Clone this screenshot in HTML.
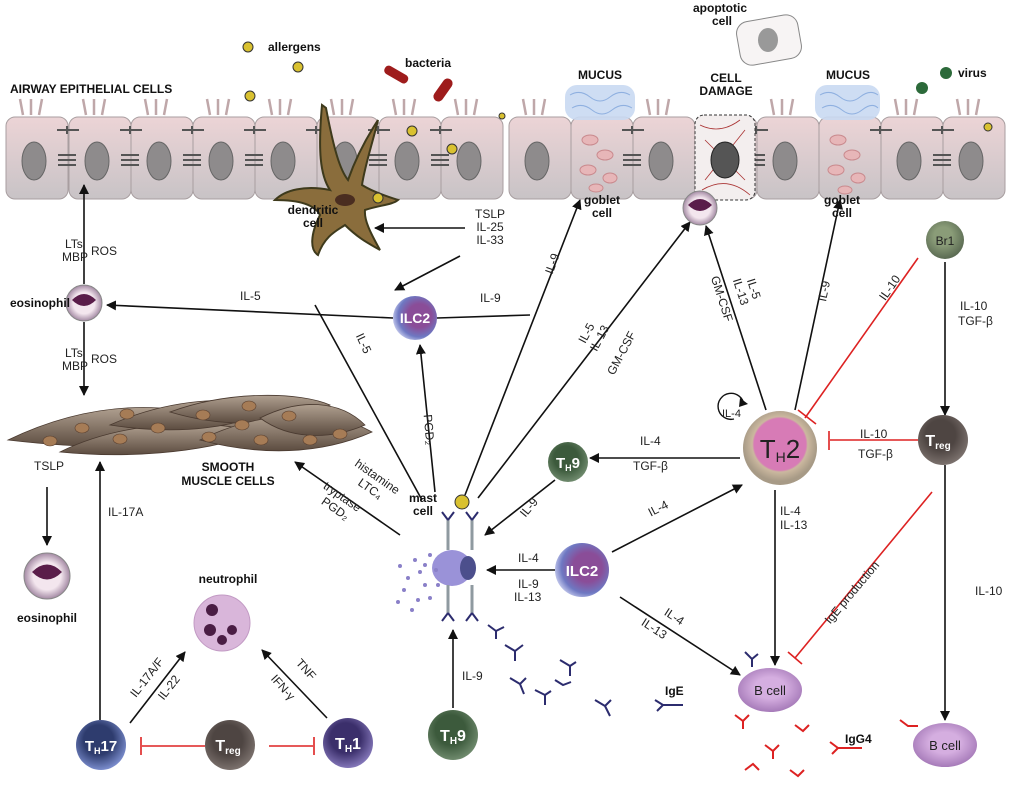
<!DOCTYPE html>
<html><head><meta charset="utf-8"><style>
html,body{margin:0;padding:0;background:#fff;}
svg{display:block;font-family:"Liberation Sans",sans-serif;}
.t{font-size:12px;fill:#222;}
.b{font-size:12px;font-weight:bold;fill:#111;}
.w{font-weight:bold;fill:#fff;}
</style></head><body>
<svg width="1009" height="792" viewBox="0 0 1009 792" xmlns="http://www.w3.org/2000/svg">
<defs>
<marker id="a" markerWidth="10" markerHeight="10" refX="9" refY="5" orient="auto" markerUnits="userSpaceOnUse"><path d="M0,0 L10,5 L0,10 z" fill="#111"/></marker>
<linearGradient id="ep" x1="0" y1="0" x2="0" y2="1"><stop offset="0" stop-color="#ecd4d6"/><stop offset="1" stop-color="#c8c3c6"/></linearGradient>
<radialGradient id="th2" cx="0.5" cy="0.45" r="0.5"><stop offset="0.7" stop-color="#d77bb6"/><stop offset="0.75" stop-color="#cbb89f"/><stop offset="1" stop-color="#a79a86"/></radialGradient>
<radialGradient id="ilc" cx="0.6" cy="0.45" r="0.6"><stop offset="0.45" stop-color="#8a4d98"/><stop offset="0.8" stop-color="#6e78c2"/><stop offset="1" stop-color="#b7bde6"/></radialGradient>
<radialGradient id="dk" cx="0.45" cy="0.4" r="0.6"><stop offset="0.5" stop-color="#4e4542"/><stop offset="1" stop-color="#7b716d"/></radialGradient>
<radialGradient id="gr" cx="0.45" cy="0.4" r="0.6"><stop offset="0.5" stop-color="#3c5a3c"/><stop offset="1" stop-color="#6f8a6d"/></radialGradient>
<radialGradient id="bl" cx="0.45" cy="0.4" r="0.6"><stop offset="0.5" stop-color="#2e3c6e"/><stop offset="1" stop-color="#7a8ccc"/></radialGradient>
<radialGradient id="pu" cx="0.45" cy="0.4" r="0.6"><stop offset="0.5" stop-color="#3b2f6b"/><stop offset="1" stop-color="#8376b8"/></radialGradient>
<radialGradient id="bc" cx="0.5" cy="0.45" r="0.6"><stop offset="0.4" stop-color="#d5aee0"/><stop offset="1" stop-color="#9e72b2"/></radialGradient>
<radialGradient id="eo" cx="0.5" cy="0.5" r="0.5"><stop offset="0.6" stop-color="#f3e6ee"/><stop offset="1" stop-color="#a48aa4"/></radialGradient>
<radialGradient id="br" cx="0.45" cy="0.4" r="0.6"><stop offset="0.4" stop-color="#8a9c78"/><stop offset="1" stop-color="#5a6a52"/></radialGradient>
<linearGradient id="sm" x1="0" y1="0" x2="0" y2="1"><stop offset="0" stop-color="#b0a090"/><stop offset="1" stop-color="#5c4c40"/></linearGradient>
</defs>

<g>
<g fill="url(#ep)" stroke="#a89ea0" stroke-width="1">
<rect x="6" y="117" width="62" height="82" rx="9"/><rect x="69" y="117" width="62" height="82" rx="9"/><rect x="131" y="117" width="62" height="82" rx="9"/><rect x="193" y="117" width="62" height="82" rx="9"/><rect x="255" y="117" width="62" height="82" rx="9"/><rect x="317" y="117" width="62" height="82" rx="9"/><rect x="379" y="117" width="62" height="82" rx="9"/><rect x="441" y="117" width="62" height="82" rx="9"/><rect x="509" y="117" width="62" height="82" rx="9"/><rect x="571" y="117" width="62" height="82" rx="9"/><rect x="633" y="117" width="62" height="82" rx="9"/><rect x="695" y="117" width="62" height="82" rx="9"/><rect x="757" y="117" width="62" height="82" rx="9"/><rect x="819" y="117" width="62" height="82" rx="9"/><rect x="881" y="117" width="62" height="82" rx="9"/><rect x="943" y="117" width="62" height="82" rx="9"/>
</g>
<g fill="#8e8b8c" stroke="#666" stroke-width="1">
<ellipse cx="34" cy="161" rx="12" ry="19"/><ellipse cx="97" cy="161" rx="12" ry="19"/><ellipse cx="159" cy="161" rx="12" ry="19"/><ellipse cx="221" cy="161" rx="12" ry="19"/><ellipse cx="283" cy="161" rx="12" ry="19"/><ellipse cx="345" cy="161" rx="12" ry="19"/><ellipse cx="407" cy="161" rx="12" ry="19"/><ellipse cx="469" cy="161" rx="12" ry="19"/><ellipse cx="537" cy="161" rx="12" ry="19"/><ellipse cx="661" cy="161" rx="12" ry="19"/><ellipse cx="785" cy="161" rx="12" ry="19"/><ellipse cx="909" cy="161" rx="12" ry="19"/><ellipse cx="971" cy="161" rx="12" ry="19"/>
</g>
<g stroke="#bfa7a9" stroke-width="2.5" fill="none">
<path d="M23,115 l-3,-16 M31,115 l0,-16 M39,115 l3,-16 M86,115 l-3,-16 M94,115 l0,-16 M102,115 l3,-16 M148,115 l-3,-16 M156,115 l0,-16 M164,115 l3,-16 M210,115 l-3,-16 M218,115 l0,-16 M226,115 l3,-16 M272,115 l-3,-16 M280,115 l0,-16 M288,115 l3,-16 M334,115 l-3,-16 M342,115 l0,-16 M350,115 l3,-16 M396,115 l-3,-16 M404,115 l0,-16 M412,115 l3,-16 M458,115 l-3,-16 M466,115 l0,-16 M474,115 l3,-16 M526,115 l-3,-16 M534,115 l0,-16 M542,115 l3,-16 M650,115 l-3,-16 M658,115 l0,-16 M666,115 l3,-16 M774,115 l-3,-16 M782,115 l0,-16 M790,115 l3,-16 M898,115 l-3,-16 M906,115 l0,-16 M914,115 l3,-16 M960,115 l-3,-16 M968,115 l0,-16 M976,115 l3,-16"/>
</g>
<g stroke="#555" stroke-width="2">
<path d="M57,130 h22 M67,126 v8 M120,130 h22 M130,126 v8 M182,130 h22 M192,126 v8 M244,130 h22 M254,126 v8 M306,130 h22 M316,126 v8 M368,130 h22 M378,126 v8 M430,130 h22 M440,126 v8 M622,130 h22 M632,126 v8 M746,130 h22 M756,126 v8 M870,130 h22 M880,126 v8 M932,130 h22 M942,126 v8"/>
<path d="M58,155 h18 M58,160 h18 M58,165 h18 M121,155 h18 M121,160 h18 M121,165 h18 M183,155 h18 M183,160 h18 M183,165 h18 M245,155 h18 M245,160 h18 M245,165 h18 M369,155 h18 M369,160 h18 M369,165 h18 M431,155 h18 M431,160 h18 M431,165 h18 M623,155 h18 M623,160 h18 M623,165 h18 M747,155 h18 M747,160 h18 M747,165 h18 M933,155 h18 M933,160 h18 M933,165 h18"/>
</g>
<g fill="#c9d9f2" opacity="0.9"><rect x="565" y="85" width="70" height="35" rx="12"/><rect x="815" y="85" width="65" height="35" rx="12"/></g>
<g stroke="#8fb0e0" stroke-width="1" fill="none"><path d="M570,95 q10,-6 20,2 t20,0 t20,-2 M572,108 q10,-6 20,2 t20,0 t20,-2 M820,95 q10,-6 20,2 t20,0 t18,-2 M822,108 q10,-6 20,2 t20,0 t16,-2"/></g>
<g fill="#e7b6b8" stroke="#c98a8e"><ellipse cx="590" cy="140" rx="8" ry="5"/><ellipse cx="605" cy="155" rx="8" ry="5"/><ellipse cx="588" cy="170" rx="8" ry="5"/><ellipse cx="610" cy="178" rx="7" ry="5"/><ellipse cx="596" cy="188" rx="7" ry="4"/><ellipse cx="838" cy="140" rx="8" ry="5"/><ellipse cx="852" cy="155" rx="8" ry="5"/><ellipse cx="836" cy="170" rx="8" ry="5"/><ellipse cx="858" cy="178" rx="7" ry="5"/><ellipse cx="845" cy="190" rx="7" ry="4"/></g>
<rect x="695" y="115" width="60" height="85" rx="9" fill="#f3eeee" stroke="#333" stroke-dasharray="3,2"/>
<g stroke="#a33" fill="none" stroke-width="0.8"><path d="M700,125 q20,10 40,-5 M702,190 q25,-15 48,5 M705,140 l40,40 M745,130 l-40,50"/></g>
<ellipse cx="725" cy="160" rx="14" ry="18" fill="#555" stroke="#222"/>
<rect x="738" y="18" width="62" height="44" rx="12" fill="#f7f4f4" stroke="#888" transform="rotate(-10 769 40)"/>
<ellipse cx="768" cy="40" rx="10" ry="12" fill="#999"/>
</g>

<!-- dendritic cell -->
<g stroke="#3e3a1c" fill="#8a6d3c" stroke-width="2">
<path d="M322,105 C318,150 320,175 330,190 C305,185 285,190 275,200 C300,200 315,205 320,215 C310,235 310,250 318,255 C325,235 338,230 345,225 C360,240 372,245 380,250 C370,232 364,220 365,210 C380,205 392,205 398,200 C382,195 370,190 362,185 C365,165 372,145 378,120 C365,140 355,160 348,180 C340,170 334,150 326,108 Z"/>
</g>
<ellipse cx="345" cy="200" rx="10" ry="6" fill="#4a2d20"/>

<g fill="#d9c130" stroke="#333"><circle cx="248" cy="47" r="5"/><circle cx="298" cy="67" r="5"/><circle cx="250" cy="96" r="5"/><circle cx="412" cy="131" r="5"/><circle cx="452" cy="149" r="5"/><circle cx="502" cy="116" r="3"/><circle cx="378" cy="198" r="5"/><circle cx="988" cy="127" r="4"/><circle cx="462" cy="502" r="7"/></g>
<g fill="#9e1c1c"><rect x="383" y="70" width="26" height="9" rx="4" transform="rotate(30 396 75)"/><rect x="430" y="85" width="26" height="10" rx="5" transform="rotate(-55 443 90)"/></g>
<g fill="#2c6a3a"><circle cx="922" cy="88" r="6"/><circle cx="946" cy="73" r="6"/></g>

<!-- smooth muscle -->
<g fill="url(#sm)" stroke="#4a3a30" stroke-width="0.8">
<path d="M8,440 C60,415 110,405 160,408 C200,412 230,420 250,428 C190,448 110,452 8,440Z"/>
<path d="M60,452 C120,422 200,418 260,432 C200,455 120,458 60,452Z"/>
<path d="M110,425 C170,398 230,396 280,405 C240,428 180,436 110,425Z"/>
<path d="M170,412 C230,390 300,392 330,405 C290,425 230,430 170,412Z"/>
<path d="M200,440 C260,410 330,408 372,432 C320,455 260,456 200,440Z"/>
<path d="M260,418 C300,398 340,400 365,425 C330,440 290,440 260,418Z"/>
</g>
<g fill="#a67c56" stroke="#5a4030" stroke-width="0.6"><ellipse cx="50" cy="441" rx="7" ry="5"/><ellipse cx="82" cy="428" rx="7" ry="5"/><ellipse cx="120" cy="439" rx="7" ry="5"/><ellipse cx="127" cy="414" rx="7" ry="5"/><ellipse cx="158" cy="428" rx="7" ry="5"/><ellipse cx="203" cy="415" rx="7" ry="5"/><ellipse cx="209" cy="437" rx="7" ry="5"/><ellipse cx="242" cy="425" rx="7" ry="5"/><ellipse cx="249" cy="406" rx="7" ry="5"/><ellipse cx="261" cy="440" rx="7" ry="5"/><ellipse cx="289" cy="416" rx="7" ry="5"/><ellipse cx="340" cy="434" rx="7" ry="5"/><ellipse cx="310" cy="440" rx="7" ry="5"/></g>

<g stroke="#111" stroke-width="1.6" fill="none" marker-end="url(#a)">
<line x1="84" y1="284" x2="84" y2="185"/>
<line x1="84" y1="322" x2="84" y2="395"/>
<line x1="393" y1="318" x2="107" y2="305"/>
<line x1="465" y1="228" x2="375" y2="228"/>
<line x1="460" y1="256" x2="395" y2="290"/>
<line x1="435" y1="492" x2="420" y2="345"/>
<line x1="465" y1="495" x2="580" y2="200"/>
<line x1="478" y1="498" x2="690" y2="222"/>
<line x1="766" y1="410" x2="706" y2="226"/>
<line x1="795" y1="410" x2="840" y2="200"/>
<line x1="945" y1="262" x2="945" y2="415"/>
<line x1="740" y1="458" x2="590" y2="458"/>
<line x1="555" y1="480" x2="485" y2="535"/>
<line x1="612" y1="552" x2="742" y2="485"/>
<line x1="555" y1="570" x2="487" y2="570"/>
<line x1="620" y1="597" x2="740" y2="675"/>
<line x1="775" y1="490" x2="775" y2="665"/>
<line x1="945" y1="465" x2="945" y2="720"/>
<line x1="400" y1="535" x2="295" y2="462"/>
<line x1="100" y1="720" x2="100" y2="462"/>
<line x1="47" y1="487" x2="47" y2="545"/>
<line x1="130" y1="723" x2="185" y2="652"/>
<line x1="327" y1="718" x2="262" y2="650"/>
<line x1="453" y1="708" x2="453" y2="630"/>
</g>
<g stroke="#111" stroke-width="1.6"><line x1="437" y1="318" x2="530" y2="315"/><line x1="315" y1="305" x2="422" y2="500"/></g>
<path d="M744,405 a13,13 0 1,0 -10,14" fill="none" stroke="#111" stroke-width="1.4"/>
<path d="M740,398 l8,6 -9,3z" fill="#111"/>

<g stroke="#d22" stroke-width="1.6">
<line x1="918" y1="258" x2="805" y2="418"/><line x1="798" y1="410" x2="816" y2="424"/>
<line x1="918" y1="440" x2="830" y2="440"/><line x1="829" y1="431" x2="829" y2="450"/>
<line x1="932" y1="492" x2="795" y2="658"/><line x1="788" y1="652" x2="802" y2="664"/>
<line x1="205" y1="746" x2="142" y2="746"/><line x1="141" y1="737" x2="141" y2="755"/>
<line x1="269" y1="746" x2="313" y2="746"/><line x1="314" y1="737" x2="314" y2="755"/>
</g>

<circle cx="84" cy="303" r="18" fill="url(#eo)" stroke="#888"/><path d="M72,300 q12,-12 24,0 q-12,12 -24,0z" fill="#5a1d4a"/>
<circle cx="700" cy="208" r="17" fill="url(#eo)" stroke="#888"/><path d="M688,205 q12,-12 24,0 q-12,12 -24,0z" fill="#5a1d4a"/>
<circle cx="47" cy="576" r="23" fill="url(#eo)" stroke="#888"/><path d="M32,572 q15,-15 30,0 q-15,15 -30,0z" fill="#5a1d4a"/>
<circle cx="222" cy="623" r="28" fill="#d9b6da" stroke="#c29ac4"/>
<g fill="#4a1d44"><circle cx="212" cy="610" r="6"/><circle cx="210" cy="630" r="6"/><circle cx="232" cy="630" r="5"/><circle cx="222" cy="640" r="5"/></g>
<circle cx="415" cy="318" r="22" fill="url(#ilc)"/><text x="415" y="323" text-anchor="middle" class="w" font-size="14">ILC2</text>
<circle cx="582" cy="570" r="27" fill="url(#ilc)"/><text x="582" y="576" text-anchor="middle" class="w" font-size="15">ILC2</text>
<circle cx="945" cy="240" r="19" fill="url(#br)"/><text x="945" y="245" text-anchor="middle" font-size="12" fill="#222">Br1</text>
<circle cx="780" cy="448" r="37" fill="url(#th2)"/><text x="780" y="458" text-anchor="middle" font-size="26" fill="#222">T<tspan font-size="14" dy="4">H</tspan><tspan dy="-4">2</tspan></text>
<circle cx="943" cy="440" r="25" fill="url(#dk)"/><text x="938" y="446" text-anchor="middle" class="w" font-size="16">T<tspan font-size="10" dy="3">reg</tspan></text>
<circle cx="568" cy="462" r="20" fill="url(#gr)"/><text x="568" y="468" text-anchor="middle" class="w" font-size="15">T<tspan font-size="9" dy="3">H</tspan><tspan dy="-3">9</tspan></text>
<circle cx="453" cy="735" r="25" fill="url(#gr)"/><text x="453" y="741" text-anchor="middle" class="w" font-size="16">T<tspan font-size="10" dy="3">H</tspan><tspan dy="-3">9</tspan></text>
<circle cx="101" cy="745" r="25" fill="url(#bl)"/><text x="101" y="751" text-anchor="middle" class="w" font-size="15">T<tspan font-size="9" dy="3">H</tspan><tspan dy="-3">17</tspan></text>
<circle cx="230" cy="745" r="25" fill="url(#dk)"/><text x="228" y="751" text-anchor="middle" class="w" font-size="16">T<tspan font-size="10" dy="3">reg</tspan></text>
<circle cx="348" cy="743" r="25" fill="url(#pu)"/><text x="348" y="749" text-anchor="middle" class="w" font-size="16">T<tspan font-size="10" dy="3">H</tspan><tspan dy="-3">1</tspan></text>
<ellipse cx="770" cy="690" rx="32" ry="22" fill="url(#bc)"/><text x="770" y="695" text-anchor="middle" font-size="13" fill="#222">B cell</text>
<ellipse cx="945" cy="745" rx="32" ry="22" fill="url(#bc)"/><text x="945" y="750" text-anchor="middle" font-size="13" fill="#222">B cell</text>

<ellipse cx="452" cy="568" rx="20" ry="18" fill="#9a92d8"/>
<ellipse cx="468" cy="568" rx="8" ry="12" fill="#4c4f8c"/>
<g stroke="#8f9aa0" stroke-width="3"><path d="M448,520 v30 M472,520 v30 M448,585 v28 M472,585 v28"/></g>
<g fill="#8a80c8"><circle cx="415" cy="560" r="2"/><circle cx="420" cy="572" r="2"/><circle cx="408" cy="578" r="2"/><circle cx="425" cy="585" r="2"/><circle cx="404" cy="590" r="2"/><circle cx="418" cy="600" r="2"/><circle cx="430" cy="555" r="2"/><circle cx="400" cy="566" r="2"/><circle cx="412" cy="610" r="2"/><circle cx="430" cy="598" r="2"/><circle cx="398" cy="602" r="2"/><circle cx="436" cy="570" r="2"/><circle cx="438" cy="585" r="2"/><circle cx="425" cy="565" r="2"/></g>
<g stroke="#2c2c6e" stroke-width="2" fill="none">
<path d="M448,520 l-6,-8 M448,520 l6,-8 M472,520 l-6,-8 M472,520 l6,-8 M448,613 l-6,8 M448,613 l6,8 M472,613 l-6,8 M472,613 l6,8"/>
<path d="M488,625 l8,6 l8,-4 M496,631 l0,8"/>
<path d="M505,645 l10,6 l8,-6 M515,651 l0,10"/>
<path d="M560,660 l10,6 M570,666 l0,10 M570,666 l6,-4"/>
<path d="M510,678 l10,6 l6,-6 M520,684 l4,10"/>
<path d="M535,690 l10,5 M545,695 l0,10 M545,695 l6,-4"/>
<path d="M555,680 l8,5 l8,-3"/>
<path d="M595,700 l10,6 M605,706 l5,10 M605,706 l6,-6"/>
<path d="M655,700 l8,5 h20 M663,705 l-6,6"/>
<path d="M745,652 l7,7 v8 M752,659 l6,-5"/>
</g>
<g stroke="#d22" stroke-width="2" fill="none">
<path d="M735,715 l8,6 l6,-6 M743,721 v8"/><path d="M765,745 l8,6 l6,-6 M773,751 v8"/><path d="M795,725 l8,6 l6,-6"/><path d="M790,770 l8,6 l6,-6"/><path d="M745,770 l8,-6 l6,6"/><path d="M830,742 l8,6 h24 M838,748 l-6,6"/><path d="M900,720 l8,6 l10,0"/>
</g>

<text x="10" y="93" class="b" font-size="12">AIRWAY EPITHELIAL CELLS</text>
<text x="268" y="51" class="b">allergens</text>
<text x="405" y="67" class="b">bacteria</text>
<text x="578" y="79" class="b">MUCUS</text>
<text x="826" y="79" class="b">MUCUS</text>
<text x="726" y="82" class="b" text-anchor="middle">CELL</text>
<text x="726" y="95" class="b" text-anchor="middle">DAMAGE</text>
<text x="958" y="77" class="b">virus</text>
<text x="720" y="12" class="b" text-anchor="middle" font-size="11">apoptotic</text>
<text x="722" y="25" class="b" text-anchor="middle" font-size="11">cell</text>
<text x="313" y="214" class="b" text-anchor="middle">dendritic</text>
<text x="313" y="227" class="b" text-anchor="middle">cell</text>
<text x="602" y="204" class="b" text-anchor="middle">goblet</text>
<text x="602" y="217" class="b" text-anchor="middle">cell</text>
<text x="842" y="204" class="b" text-anchor="middle">goblet</text>
<text x="842" y="217" class="b" text-anchor="middle">cell</text>
<text x="10" y="307" class="b">eosinophil</text>
<text x="47" y="622" class="b" text-anchor="middle">eosinophil</text>
<text x="228" y="471" class="b" text-anchor="middle">SMOOTH</text>
<text x="228" y="485" class="b" text-anchor="middle">MUSCLE CELLS</text>
<text x="423" y="502" class="b" text-anchor="middle">mast</text>
<text x="423" y="515" class="b" text-anchor="middle">cell</text>
<text x="228" y="583" class="b" text-anchor="middle">neutrophil</text>
<text x="665" y="695" class="b">IgE</text>
<text x="845" y="743" class="b">IgG4</text>

<g class="t">
<text x="65" y="248">LTs</text><text x="62" y="261">MBP</text><text x="91" y="255">ROS</text>
<text x="65" y="357">LTs</text><text x="62" y="370">MBP</text><text x="91" y="363">ROS</text>
<text x="240" y="300">IL-5</text>
<text x="480" y="302">IL-9</text>
<text x="490" y="218" text-anchor="middle">TSLP</text><text x="490" y="231" text-anchor="middle">IL-25</text><text x="490" y="244" text-anchor="middle">IL-33</text>
<text transform="translate(893,290) rotate(-55)" text-anchor="middle">IL-10</text>
<text x="960" y="310">IL-10</text><text x="958" y="325">TGF-β</text>
<text x="860" y="438">IL-10</text><text x="858" y="458">TGF-β</text>
<text x="640" y="445">IL-4</text><text x="633" y="470">TGF-β</text>
<text x="780" y="515">IL-4</text><text x="780" y="529">IL-13</text>
<text x="518" y="562">IL-4</text><text x="518" y="588">IL-9</text><text x="514" y="601">IL-13</text>
<text x="975" y="595">IL-10</text>
<text x="34" y="470">TSLP</text>
<text x="108" y="516">IL-17A</text>
<text x="462" y="680">IL-9</text>
<text transform="translate(556,265) rotate(-70)" text-anchor="middle">IL-9</text>
<text transform="translate(360,345) rotate(65)" text-anchor="middle">IL-5</text>
<text transform="translate(425,430) rotate(85)" text-anchor="middle">PGD₂</text>
<text transform="translate(590,335) rotate(-62)" text-anchor="middle">IL-5</text>
<text transform="translate(603,340) rotate(-62)" text-anchor="middle">IL-13</text>
<text transform="translate(625,355) rotate(-62)" text-anchor="middle">GM-CSF</text>
<text transform="translate(718,300) rotate(72)" text-anchor="middle">GM-CSF</text>
<text transform="translate(750,290) rotate(72)" text-anchor="middle">IL-5</text>
<text transform="translate(737,293) rotate(72)" text-anchor="middle">IL-13</text>
<text transform="translate(828,292) rotate(-78)" text-anchor="middle">IL-9</text>
<text transform="translate(532,510) rotate(-50)" text-anchor="middle">IL-9</text>
<text transform="translate(660,512) rotate(-27)" text-anchor="middle">IL-4</text>
<text transform="translate(672,620) rotate(33)" text-anchor="middle">IL-4</text>
<text transform="translate(652,632) rotate(33)" text-anchor="middle">IL-13</text>
<text transform="translate(855,595) rotate(-50)" text-anchor="middle">IgE production</text>
<text transform="translate(375,480) rotate(35)" text-anchor="middle">histamine</text>
<text transform="translate(368,492) rotate(35)" text-anchor="middle">LTC₄</text>
<text transform="translate(340,500) rotate(35)" text-anchor="middle">tryptase</text>
<text transform="translate(333,512) rotate(35)" text-anchor="middle">PGD₂</text>
<text transform="translate(150,680) rotate(-52)" text-anchor="middle">IL-17A/F</text>
<text transform="translate(172,690) rotate(-52)" text-anchor="middle">IL-22</text>
<text transform="translate(303,672) rotate(48)" text-anchor="middle">TNF</text>
<text transform="translate(280,690) rotate(48)" text-anchor="middle">IFN-γ</text>
<text x="722" y="417" font-size="11">IL-4</text>
</g>
</svg>
</body></html>
